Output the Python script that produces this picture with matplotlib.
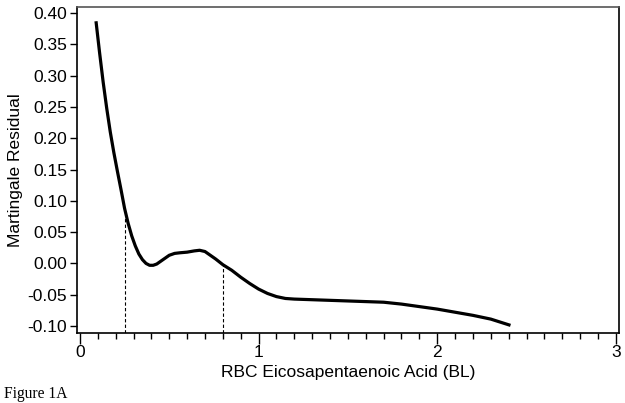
import matplotlib.pyplot as plt
from matplotlib.ticker import MultipleLocator

# values
epa = [0.09, 0.11, 0.13, 0.15, 0.17, 0.19, 0.21, 0.23, 0.25, 0.27, 0.29, 0.31,
       0.33, 0.35, 0.37, 0.39, 0.41, 0.43, 0.45, 0.48, 0.50, 0.53, 0.56, 0.60,
       0.64, 0.67, 0.70, 0.73, 0.76, 0.80, 0.85, 0.90, 0.95, 1.00, 1.05, 1.10,
       1.15, 1.20, 1.30, 1.40, 1.50, 1.60, 1.70, 1.80, 1.90, 2.00, 2.10, 2.20,
       2.30, 2.41]
resid = [0.387, 0.337, 0.290, 0.248, 0.210, 0.177, 0.147, 0.118, 0.088, 0.064,
         0.044, 0.028, 0.015, 0.006, 0.000, -0.003, -0.003, -0.001, 0.003, 0.009,
         0.013, 0.016, 0.017, 0.018, 0.020, 0.021, 0.019, 0.013, 0.007, -0.002,
         -0.011, -0.022, -0.032, -0.041, -0.048, -0.053, -0.056, -0.057, -0.058,
         -0.059, -0.060, -0.061, -0.062, -0.065, -0.069, -0.073, -0.078, -0.083,
         -0.089, -0.099]

cut_x = [0.255, 0.80]
cut_y = [0.074, -0.002]

plt.rcParams['font.family'] = ['Liberation Sans', 'DejaVu Sans']

fig = plt.figure(figsize=(6.25, 4.03), dpi=100)
ax = fig.add_axes([0.123, 0.174, 0.867, 0.809])

ax.plot(epa, resid, color='k', linewidth=2.3, solid_capstyle='butt')
for cx, cy in zip(cut_x, cut_y):
    ax.plot([cx, cx], [-0.111, cy], color='k', linewidth=0.8, linestyle=(0, (3, 2)))

ax.set_xlim(-0.017, 3.016)
ax.set_ylim(-0.111, 0.41)
ax.xaxis.set_major_locator(MultipleLocator(1))
ax.xaxis.set_minor_locator(MultipleLocator(0.1))
ax.yaxis.set_major_locator(MultipleLocator(0.05))
ax.yaxis.set_major_formatter(plt.FuncFormatter(lambda v, p: '%.2f' % v))

ax.tick_params(axis='x', which='major', length=8, width=1, labelsize=12.5, pad=1)
ax.tick_params(axis='x', which='minor', length=4, width=1)
ax.tick_params(axis='y', which='major', length=5, width=1, labelsize=12.5, pad=2)

for s in ax.spines.values():
    s.set_linewidth(1.2)
ax.spines['top'].set_color('#555555')

ax.set_xlabel('RBC Eicosapentaenoic Acid (BL)', fontsize=12.5, labelpad=3)
ax.set_ylabel('Martingale Residual', fontsize=12.5, labelpad=3)

fig.text(0.007, 0.012, 'Figure 1A', fontsize=11.2, family='Liberation Serif')

fig.savefig('out.png', dpi=100)
